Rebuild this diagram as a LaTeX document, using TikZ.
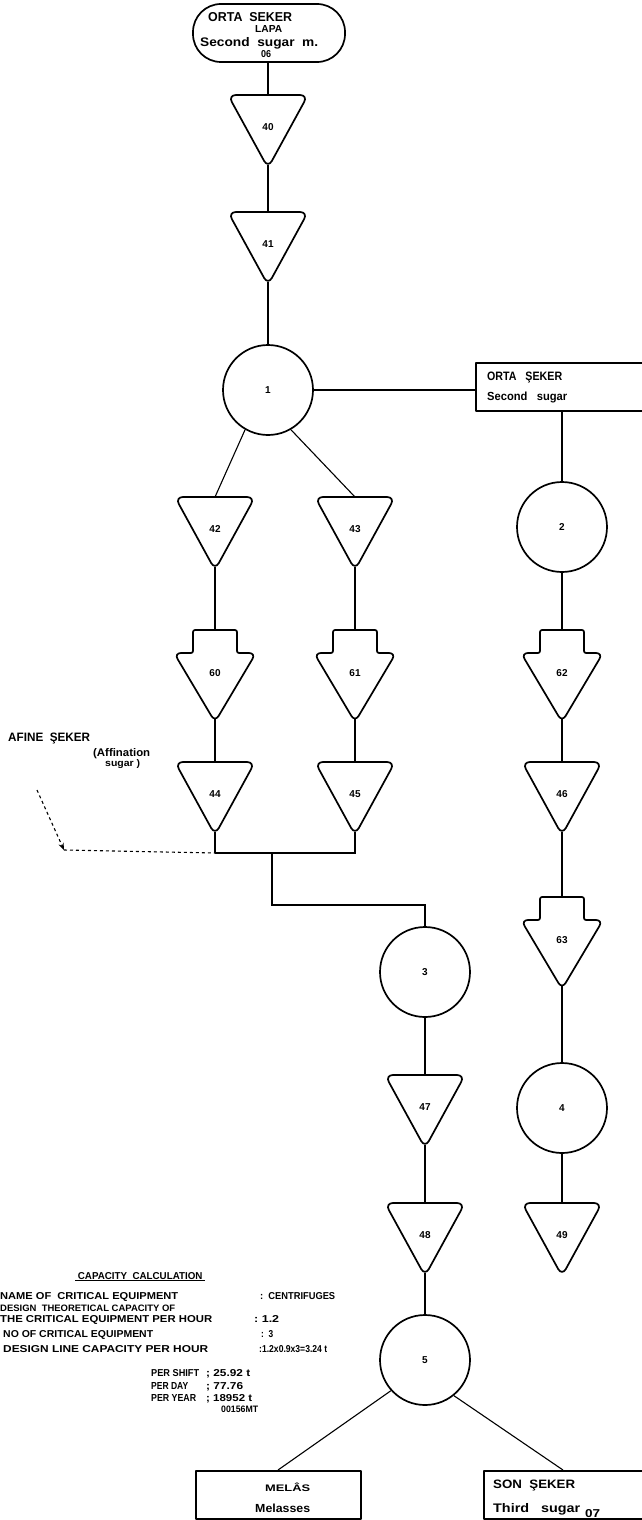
\documentclass[tikz,border=0pt]{standalone}
\usepackage{fontspec}
\setmainfont{Liberation Sans}
\usetikzlibrary{arrows.meta}
\newcommand\fw[3]{\resizebox{#1pt}{#2pt}{#3}}
\begin{document}
\begin{tikzpicture}[x=1pt,y=-1pt,
  shp/.style={draw, line width=1.7pt, line join=round},
  con/.style={draw, line width=1.1pt},
  lbl/.style={font=\bfseries\fontsize{10}{10}\selectfont, inner sep=0pt},
  circ/.style={shp, circle, minimum size=90pt, inner sep=0pt, font=\bfseries\fontsize{10}{10}\selectfont},
  boxn/.style={shp, rectangle, anchor=north west, inner sep=0pt},
  big/.style={font=\bfseries\fontsize{11}{11}\selectfont, inner sep=0pt},
  txt/.style={font=\bfseries\fontsize{10}{10}\selectfont, inner sep=0pt, anchor=base west},
  tri/.pic={\draw[shp, rounded corners=8pt] (-40,0) -- (40,0) -- (0,73) -- cycle;
    \node[lbl] (-l) at (0,32) {#1};
    \coordinate (-top) at (0,0); \coordinate (-tip) at (0,70);},
  arr/.pic={\draw[shp] (0,0) [rounded corners=2pt] -- (22,0) -- (22,23) [rounded corners=7pt] -- (41,23) -- (0,92) -- (-41,23) [rounded corners=2pt] -- (-22,23) -- (-22,0) -- cycle;
    \node[lbl] (-l) at (0,43) {#1};
    \coordinate (-top) at (0,0); \coordinate (-tip) at (0,89);}
]
\useasboundingbox (0,0) rectangle (641,1520);

% top terminal
\node[shp, rectangle, rounded corners=28pt, minimum width=152pt, minimum height=58pt, inner sep=0pt] (top) at (269,33) {};
\node[big, anchor=base west] (topa) at (208,22) {\fw{84}{9}{ORTA\ \ SEKER}};
\node[big, anchor=base west] (topb) at (255,33) {\fw{27}{7}{LAPA}};
\node[big, anchor=base west] (topc) at (200,46) {\fw{118}{9}{Second\ \ sugar\ \ m.}};
\node[big, anchor=base west] (topd) at (261,58) {\fw{10}{7}{06}};

\pic (t40) at (268,95) {tri=40};
\pic (t41) at (268,212) {tri=41};
\node[circ] (c1) at (268,390) {1};
\node[boxn, minimum width=172pt, minimum height=48pt] (b2) at (475,362) {};
\node[big, anchor=base west] (b2a) at (487,380) {\fw{75}{8.5}{ORTA\ \ \ ŞEKER}};
\node[big, anchor=base west] (b2b) at (487,400) {\fw{80}{8.5}{Second\ \ \ sugar}};

\pic (t42) at (215,497) {tri=42};
\pic (t43) at (355,497) {tri=43};
\node[circ] (c2) at (562,527) {2};
\pic (p60) at (215,630) {arr=60};
\pic (p61) at (355,630) {arr=61};
\pic (p62) at (562,630) {arr=62};
\pic (t44) at (215,762) {tri=44};
\pic (t45) at (355,762) {tri=45};
\pic (t46) at (562,762) {tri=46};
\pic (p63) at (562,897) {arr=63};
\node[circ] (c3) at (425,972) {3};
\node[circ] (c4) at (562,1108) {4};
\pic (t47) at (425,1075) {tri=47};
\pic (t48) at (425,1203) {tri=48};
\pic (t49) at (562,1203) {tri=49};
\node[circ] (c5) at (425,1360) {5};

\node[boxn, minimum width=165pt, minimum height=48pt] (mel) at (195,1470) {};
\node[big, anchor=base west] (mela) at (265,1491) {\fw{45}{8.5}{MELÂS}};
\node[big, anchor=base west] (melb) at (255,1512) {\fw{55}{8.5}{Melasses}};
\node[boxn, minimum width=175pt, minimum height=48pt] (son) at (483,1470) {};
\node[big, anchor=base west] (sona) at (493,1488) {\fw{82}{8.5}{SON\ \ ŞEKER}};
\node[big, anchor=base west] (sonb) at (493,1512) {\fw{87}{9}{Third\ \ \ sugar}};
\node[big, anchor=base west] (sonc) at (585,1517) {\fw{15}{8}{07}};

% affination sugar
\node[big, anchor=base west] (af1) at (8,741) {\fw{82}{8.5}{AFINE\ \ ŞEKER}};
\node[big, anchor=base west] (af2) at (93,756) {\fw{57}{8}{(Affination}};
\node[big, anchor=base west] (af3) at (105,766) {\fw{35}{7}{sugar\ )}};
\coordinate (da) at (37,790);
\coordinate (dend) at (64,850);
\coordinate (j1) at (215,853);
\coordinate (j2) at (355,853);
\coordinate (j3) at (272,853);
\coordinate (j4) at (272,905);

% connectors
\draw[con] (top.south -| t40-top) -- (t40-top);
\draw[con] (t40-tip) -- (t41-top);
\draw[con] (t41-tip) -- (c1.north);
\draw[con] (c1.east) -- (c1.east -| b2.west);
\draw[con] (c2.north |- b2.south) -- (c2.north);
\draw[con] (c1.240) -- (t42-top);
\draw[con] (c1.300) -- (t43-top);
\draw[con] (t42-tip) -- (p60-top);
\draw[con] (t43-tip) -- (p61-top);
\draw[con] (c2.south) -- (p62-top);
\draw[con] (p60-tip) -- (t44-top);
\draw[con] (p61-tip) -- (t45-top);
\draw[con] (p62-tip) -- (t46-top);
\draw[con] (t46-tip) -- (p63-top);
\draw[con] (p63-tip) -- (c4.north);
\draw[con] (c4.south) -- (t49-top);
\draw[con] (t44-tip) -- (j1);
\draw[con] (t45-tip) -- (j2) -- (j1);
\draw[con] (j3) -- (j4) -- (j4 -| c3.north) -- (c3.north);
\draw[con, dashed, -{Stealth[length=7pt]}] (da) -- (dend);
\draw[con, dashed] (dend) -- (j1);
\draw[con] (c3.south) -- (t47-top);
\draw[con] (t47-tip) -- (t48-top);
\draw[con] (t48-tip) -- (c5.north);
\draw[con] (c5.222) -- ([xshift=83pt]mel.north west);
\draw[con] (c5.309) -- ([xshift=80pt]son.north west);

% capacity calculation
\node[txt] (cap0) at (75,1279) {\fw{130}{7}{\underline{\ CAPACITY\ \ CALCULATION\ }}};
\node[txt] (cap1) at (0,1299) {\fw{178}{7}{NAME OF\ \ CRITICAL EQUIPMENT}};
\node[txt] (cap1v) at (260,1299) {\fw{75}{7}{:\ \ CENTRIFUGES}};
\node[txt] (cap2) at (0,1311) {\fw{175}{6.5}{DESIGN\ \ THEORETICAL CAPACITY OF}};
\node[txt] (cap3) at (0,1322) {\fw{212}{7}{THE CRITICAL EQUIPMENT PER HOUR}};
\node[txt] (cap3v) at (254,1322) {\fw{25}{7}{:\ 1.2}};
\node[txt] (cap4) at (3,1337) {\fw{150}{7}{NO OF CRITICAL EQUIPMENT}};
\node[txt] (cap4v) at (261,1337) {\fw{12}{7}{:\ \ 3}};
\node[txt] (cap5) at (3,1352) {\fw{205}{7}{DESIGN LINE CAPACITY PER HOUR}};
\node[txt] (cap5v) at (259,1352) {\fw{68}{7}{:1.2x0.9x3=3.24 t}};
\node[txt] (cap6) at (151,1376) {\fw{48}{7}{PER SHIFT}};
\node[txt] (cap6v) at (206,1376) {\fw{44}{7}{;\ 25.92 t}};
\node[txt] (cap7) at (151,1389) {\fw{37}{7}{PER DAY}};
\node[txt] (cap7v) at (206,1389) {\fw{37}{7}{;\ 77.76}};
\node[txt] (cap8) at (151,1401) {\fw{45}{7}{PER YEAR}};
\node[txt] (cap8v) at (206,1401) {\fw{46}{7}{;\ 18952 t}};
\node[txt] (cap9) at (221,1412) {\fw{37}{6.5}{00156MT}};
\end{tikzpicture}
\end{document}
